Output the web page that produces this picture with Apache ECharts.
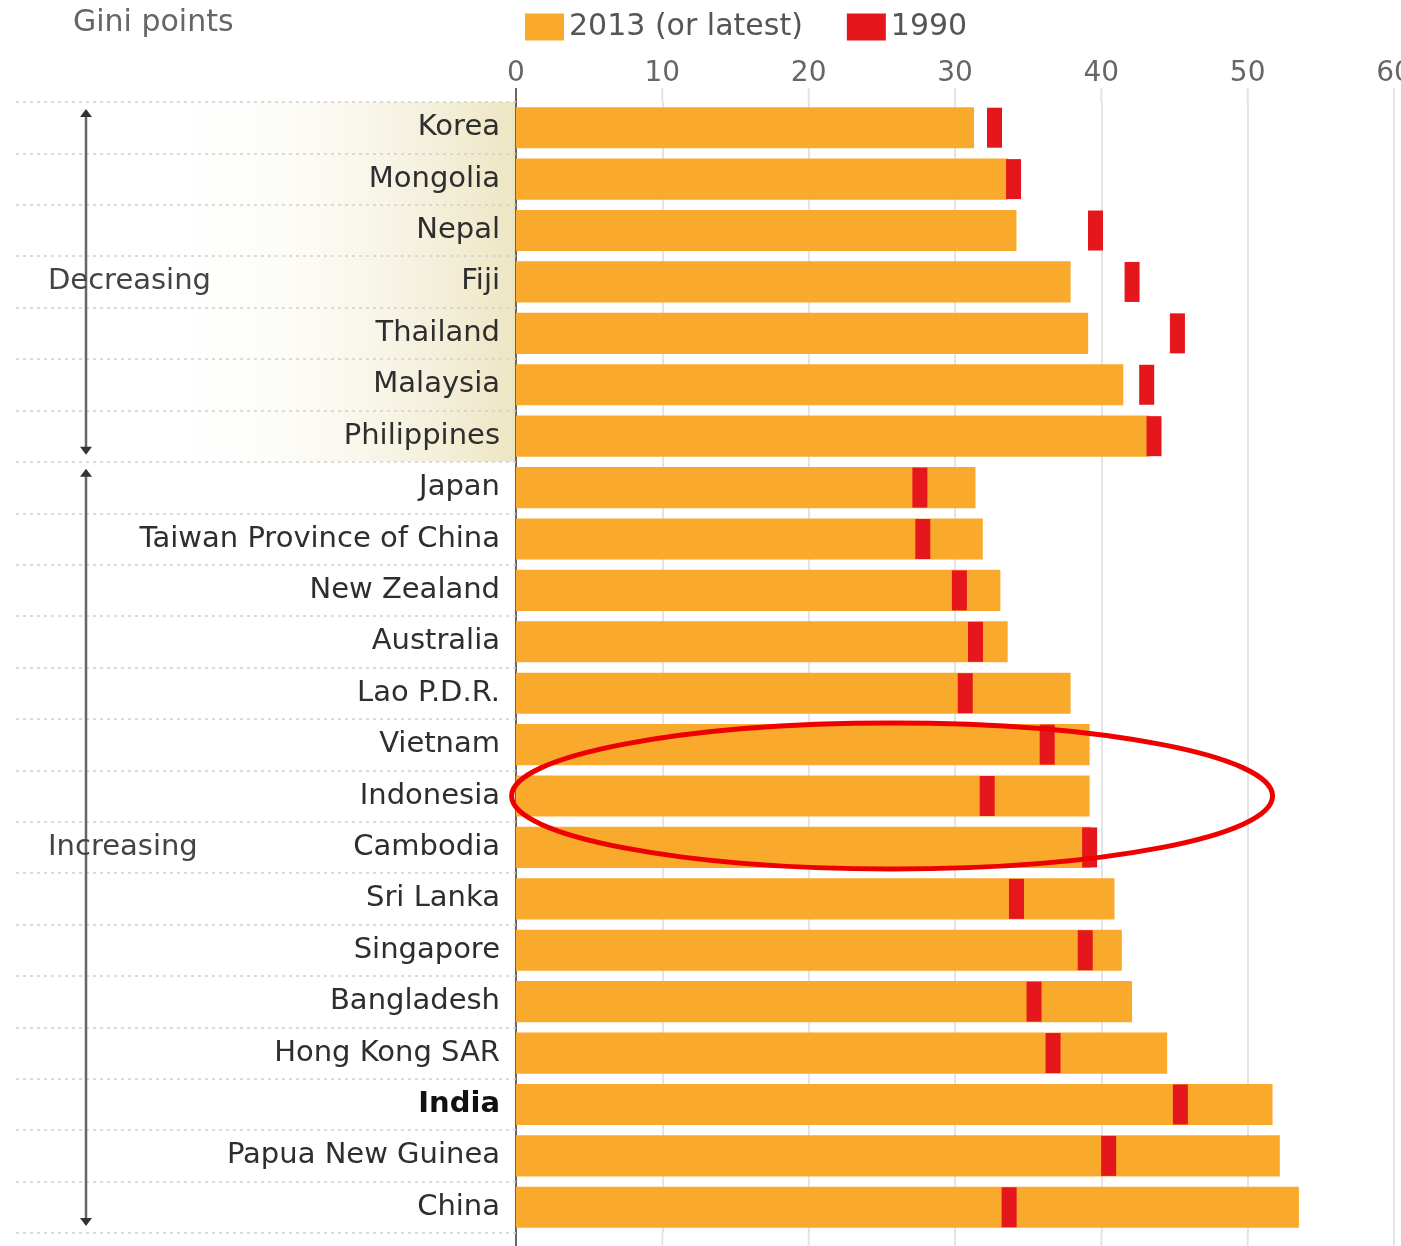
<!DOCTYPE html>
<html><head><meta charset="utf-8">
<script src="https://cdn.jsdelivr.net/npm/echarts@6/dist/echarts.min.js"></script>
<style>html,body{margin:0;padding:0;background:#fff}#c{width:1401px;height:1246px}</style>
</head><body><div id="c"></div>
<script>
const categories = ['Korea','Mongolia','Nepal','Fiji','Thailand','Malaysia','Philippines','Japan','Taiwan Province of China','New Zealand','Australia','Lao P.D.R.','Vietnam','Indonesia','Cambodia','Sri Lanka','Singapore','Bangladesh','Hong Kong SAR','India','Papua New Guinea','China'];
const gini2013 = [31.3,33.6,34.2,37.9,39.1,41.5,43.3,31.4,31.9,33.1,33.6,37.9,39.2,39.2,39.3,40.9,41.4,42.1,44.5,51.7,52.2,53.5];
const gini1990 = [32.7,34.0,39.6,42.1,45.2,43.1,43.6,27.6,27.8,30.3,31.4,30.7,36.3,32.2,39.2,34.2,38.9,35.4,36.7,45.4,40.5,33.7];
const xTicks = [0,10,20,30,40,50,60];
const groupNames = ['Decreasing','Increasing'];
const groupFrom = [0,7];
const groupTo = [6,21];
const groupLabelRow = [3,14];
const seriesNames = ['2013 (or latest)','1990'];
const highlightRow = 13;     // Indonesia, circled in the original
const highlightCentre = 25.7;

const ORANGE = '#F9AA2C', RED = '#E5161C';
const FONT = 'DejaVu Sans';

const chart = echarts.init(document.getElementById('c'));
const option = {
  animation: false,
  backgroundColor: '#fff',
  textStyle: {fontFamily: FONT},
  title: {text: 'Gini points', left: 68, top: 3,
    textStyle: {fontFamily: FONT, fontSize: 30, fontWeight: 'normal', color: '#666'}},
  legend: {
    left: 520, top: 7, itemWidth: 39, itemHeight: 27, itemGap: 44,
    textStyle: {fontFamily: FONT, fontSize: 30, color: '#555'},
    data: [{name: seriesNames[0], icon: 'rect'}, {name: seriesNames[1], icon: 'rect'}]
  },
  grid: {left: 516, right: 7, top: 102, bottom: 13, containLabel: false, outerBoundsMode: 'none'},
  xAxis: {
    type: 'value', position: 'top', min: xTicks[0], max: xTicks[xTicks.length-1], interval: 10,
    axisLine: {show: false}, axisTick: {show: false},
    axisLabel: {fontFamily: FONT, fontSize: 28, color: '#666', margin: 14},
    splitLine: {show: true, lineStyle: {color: '#e4e4e4', width: 2}}
  },
  yAxis: {
    type: 'category', inverse: true, data: categories,
    axisLine: {show: true, lineStyle: {color: '#666', width: 2}},
    axisTick: {show: true, length: 500, lineStyle: {color: '#cfcfcf', width: 1.5, type: [3, 4]}},
    axisLabel: {
      fontFamily: FONT, fontSize: 29, color: '#2e2e2e', margin: 16,
      formatter: v => v === 'India' ? '{b|India}' : v,
      rich: {b: {fontFamily: FONT, fontSize: 29, fontWeight: 'bold', color: '#111'}}
    }
  },
  series: [
    {name: seriesNames[0], type: 'bar', data: gini2013, barWidth: '80%',
     itemStyle: {color: ORANGE}, z: 2},
    {name: seriesNames[1], type: 'scatter', data: gini1990.map((v, i) => [v, i]),
     symbol: 'rect', symbolSize: [15, 40], itemStyle: {color: RED, opacity: 1}, z: 3}
  ]
};
chart.setOption(option);

function addDecor() {
  const yc = i => chart.convertToPixel({yAxisIndex: 0}, i);
  const xc = v => chart.convertToPixel({xAxisIndex: 0}, v);
  const band = Math.abs(yc(1) - yc(0));
  const top = yc(0) - band / 2, bottom = yc(categories.length - 1) + band / 2;
  const H = chart.getHeight();
  const g = [];
  // beige shading behind the "Decreasing" labels
  const x0 = xc(0);
  g.push({type: 'rect', z: -5, silent: true,
    shape: {x: 0, y: yc(groupFrom[0]) - band/2, width: x0, height: (groupTo[0] - groupFrom[0] + 1) * band},
    style: {fill: new echarts.graphic.LinearGradient(0, 0, 1, 0, [
      {offset: 0, color: 'rgba(255,255,255,0)'}, {offset: 0.3, color: 'rgba(255,255,255,0)'},
      {offset: 1, color: '#EDE5C2'}])}});
  // gridline and axis extensions above/below the plot
  xTicks.forEach(v => {
    const x = xc(v);
    const st = v === 0 ? {stroke: '#666', lineWidth: 2} : {stroke: '#e4e4e4', lineWidth: 2};
    g.push({type: 'line', silent: true, z: -1, shape: {x1: x, y1: top - 14, x2: x, y2: top}, style: st});
    g.push({type: 'line', silent: true, z: -1, shape: {x1: x, y1: bottom, x2: x, y2: H}, style: st});
  });
  // bracket arrows + group names
  const ax = 86;
  groupNames.forEach((name, k) => {
    const y1 = yc(groupFrom[k]) - band/2 + 7, y2 = yc(groupTo[k]) + band/2 - 7;
    g.push({type: 'line', silent: true, z: 5, shape: {x1: ax, y1: y1 + 2, x2: ax, y2: y2 - 2},
      style: {stroke: '#666', lineWidth: 2.5}});
    g.push({type: 'polygon', silent: true, z: 5, shape: {points: [[ax - 6, y1 + 8], [ax + 6, y1 + 8], [ax, y1]]},
      style: {fill: '#333'}});
    g.push({type: 'polygon', silent: true, z: 5, shape: {points: [[ax - 6, y2 - 8], [ax + 6, y2 - 8], [ax, y2]]},
      style: {fill: '#333'}});
    g.push({type: 'text', silent: true, z: 6, x: 48, y: yc(groupLabelRow[k]),
      style: {text: name, fontFamily: FONT, fontSize: 29, fill: '#444', verticalAlign: 'middle', align: 'left'}});
  });
  // red ellipse annotation around Indonesia
  const cx = xc(highlightCentre);
  g.push({type: 'ellipse', silent: true, z: 10,
    shape: {cx: cx, cy: yc(highlightRow), rx: xc(51.7) - cx, ry: band * 1.42},
    style: {fill: 'none', stroke: '#EE0000', lineWidth: 5}});
  chart.setOption({graphic: {elements: g}});
}
addDecor();
</script>
</body></html>
